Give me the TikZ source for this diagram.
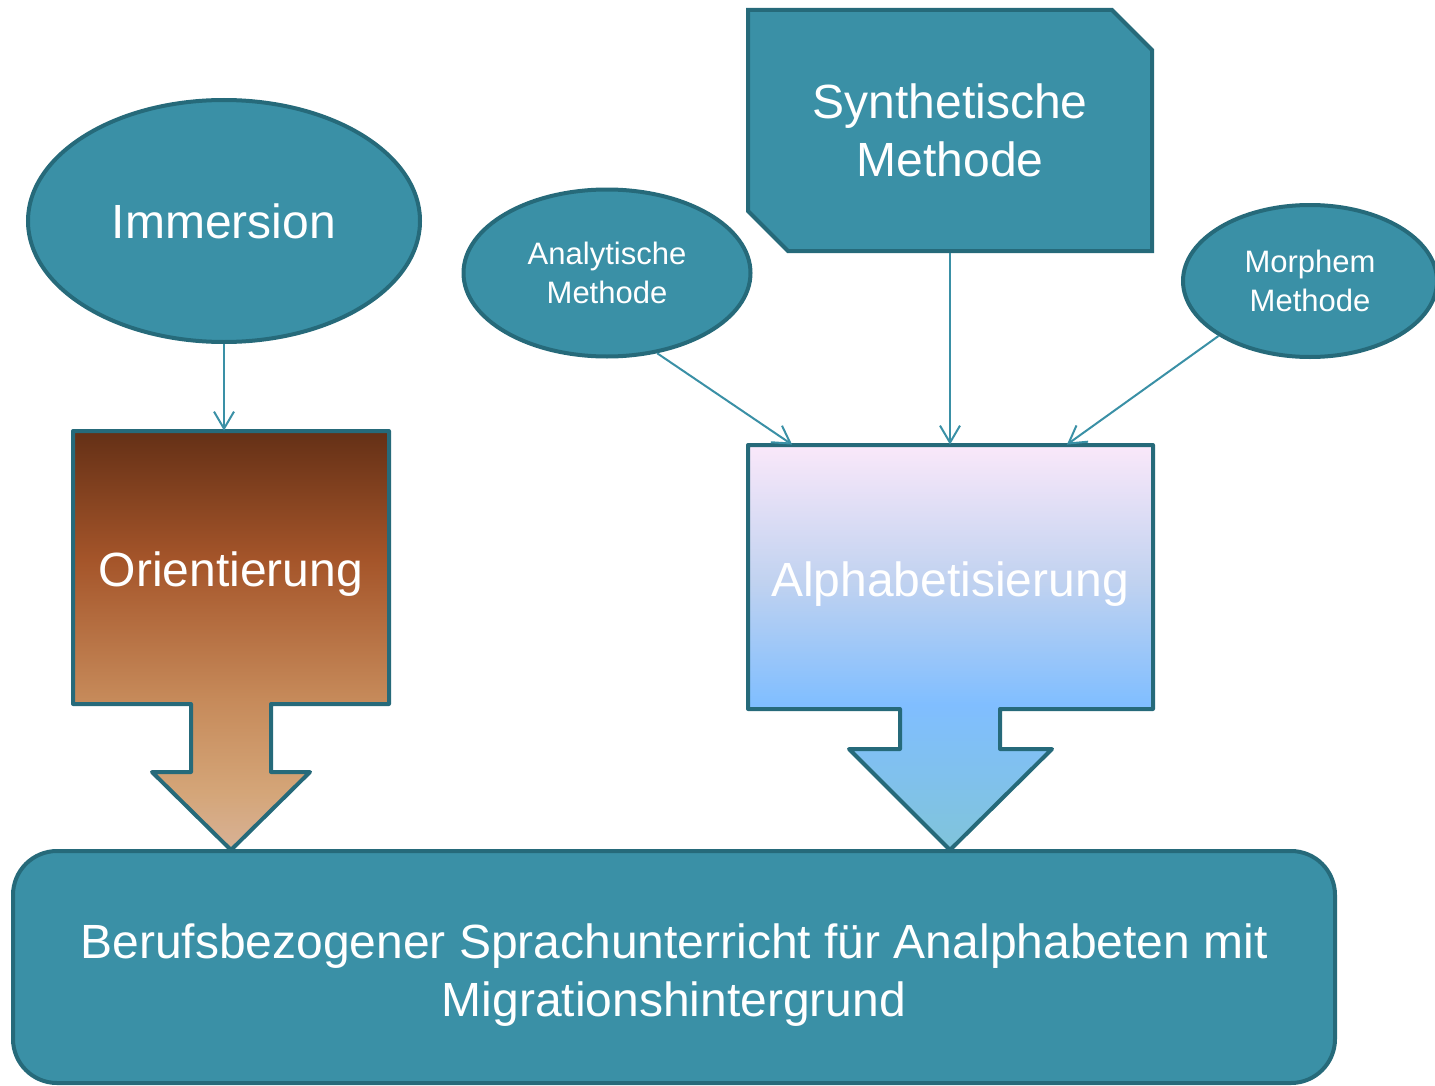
\documentclass[tikz,border=0pt]{standalone}
\usepackage{fontspec}
\setmainfont{Liberation Sans}
\usetikzlibrary{shapes.geometric,shapes.misc,arrows.meta}
\definecolor{teal1}{RGB}{58,144,166}
\definecolor{rim}{RGB}{38,106,122}
\definecolor{brownA}{RGB}{100,48,22}
\definecolor{brownB}{RGB}{165,85,42}
\definecolor{brownC}{RGB}{198,138,90}
\definecolor{brownD}{RGB}{212,165,120}
\definecolor{brownE}{RGB}{216,178,150}
\definecolor{pinkA}{RGB}{250,232,250}
\definecolor{blueB}{RGB}{192,210,240}
\definecolor{blueC}{RGB}{128,190,255}
\definecolor{blueD}{RGB}{128,196,218}
\pgfdeclareverticalshading{orientfill}{100bp}{color(0bp)=(brownE); color(25bp)=(brownE); color(32bp)=(brownD);
  color(43bp)=(brownC); color(59.6bp)=(brownB); color(75bp)=(brownA); color(100bp)=(brownA)}
\pgfdeclareverticalshading{alphafill}{100bp}{color(0bp)=(blueD); color(25bp)=(blueD); color(43bp)=(blueC);
  color(58bp)=(blueB); color(75bp)=(pinkA); color(100bp)=(pinkA)}

\begin{document}
\begin{tikzpicture}[x=1pt,y=-1pt]
\tikzset{tealbox/.style={fill=teal1, draw=rim, line width=2pt, text=white, align=center, inner sep=0pt}}
\tikzset{big/.style={font=\fontsize{24}{29}\selectfont}}
\tikzset{small/.style={font=\fontsize{15.5}{19.5}\selectfont}}
\tikzset{link/.style={draw=teal1, line width=1pt, -{Straight Barb[length=8.5pt,width=10pt]}}}
\useasboundingbox (0,0) rectangle (717.5,543);

				% top row
				\node[tealbox, big, ellipse, minimum width=196pt, minimum height=121pt] (immersion) at (112,110.5) {Immersion};
				\node[tealbox, big, chamfered rectangle, chamfered rectangle corners={north east,south west},
					chamfered rectangle xsep=10pt, chamfered rectangle ysep=10pt,
					minimum width=202pt, minimum height=120.5pt] (synth) at (475,65.25) {Synthetische\\Methode};
				\node[tealbox, small, ellipse, minimum width=143.5pt, minimum height=83.5pt] (analyt) at (303.5,136.5) {Analytische\\Methode};
				\node[tealbox, small, ellipse, minimum width=127pt, minimum height=76pt] (morphem) at (655,140.5) {Morphem\\Methode};

				% arrow boxes
				\path[draw=rim, line width=2pt, line join=round, shading=orientfill]
					(36.5,215.5) -- (194.5,215.5) -- (194.5,352) -- (135.5,352) -- (135.5,386) -- (155,386)
					-- (115.5,425) -- (76,386) -- (95.5,386) -- (95.5,352) -- (36.5,352) -- cycle;
				\node[big, text=white, minimum width=158pt, minimum height=143.5pt] (orient) at (115.5,287.25) {Orientierung};

				\path[draw=rim, line width=2pt, line join=round, shading=alphafill]
					(374,222.5) -- (576.5,222.5) -- (576.5,354.5) -- (500,354.5) -- (500,374.5) -- (526,374.5)
					-- (475,425) -- (424.5,374.5) -- (450,374.5) -- (450,354.5) -- (374,354.5) -- cycle;
				\node[big, text=white, minimum width=202.5pt, minimum height=139pt] (alpha) at (475,292) {Alphabetisierung};

				% bottom
				\node[tealbox, rounded corners=22pt, minimum width=661pt, minimum height=116pt,
					label={[big, text=white, align=center, yshift=-4pt]center:{Berufsbezogener Sprachunterricht für Analphabeten mit\\Migrationshintergrund}}]
					(kurs) at (337,483.5) {};

				% connectors
				\draw[link] (immersion.south) -- (immersion.south |- orient.north);
				\draw[link] (analyt.-58) -- ([xshift=22.5pt]alpha.north west);
				\draw[link] (synth.south) -- (alpha.north);
				\draw[link] (morphem.211) -- ([xshift=-43pt]alpha.north east);
\end{tikzpicture}
\end{document}
